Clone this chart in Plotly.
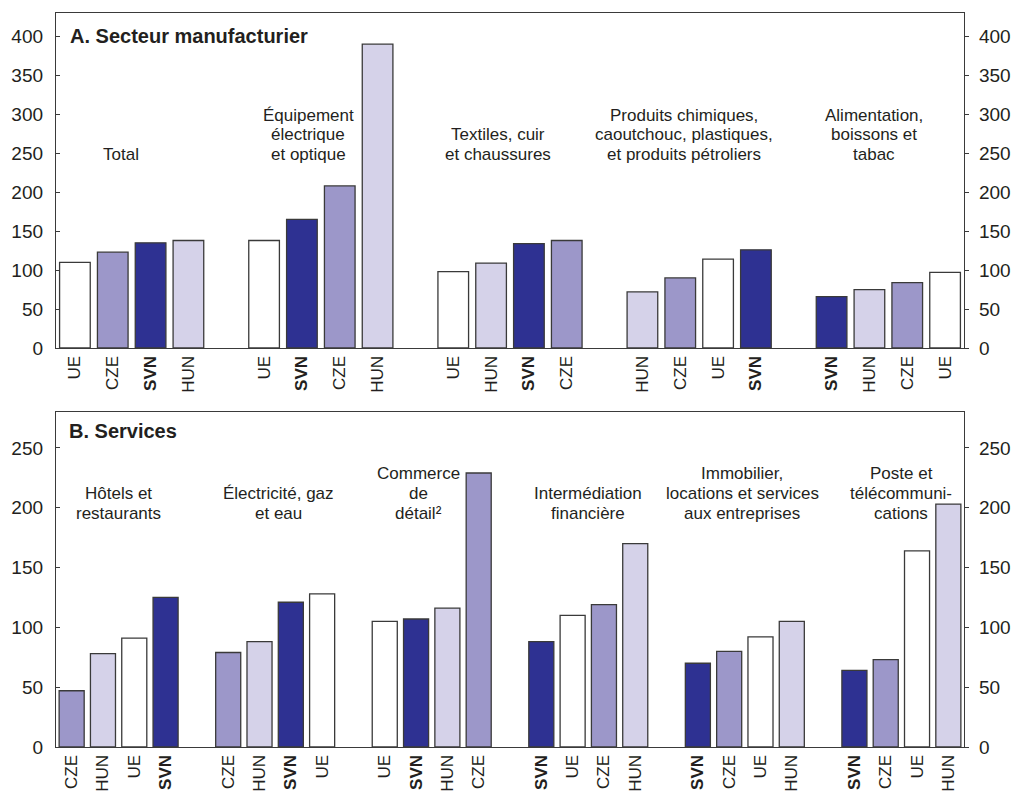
import plotly.graph_objects as go

# ---- Panel A: manufacturing ----
manuf_sectors = [
    "Total",
    "Équipement<br>électrique<br>et optique",
    "Textiles, cuir<br>et chaussures",
    "Produits chimiques,<br>caoutchouc, plastiques,<br>et produits pétroliers",
    "Alimentation,<br>boissons et<br>tabac",
]
manuf_countries = [
    ["UE", "CZE", "SVN", "HUN"],
    ["UE", "SVN", "CZE", "HUN"],
    ["UE", "HUN", "SVN", "CZE"],
    ["HUN", "CZE", "UE", "SVN"],
    ["SVN", "HUN", "CZE", "UE"],
]
manuf_values = [
    [110, 123, 135, 138],
    [138, 165, 208, 390],
    [98, 109, 134, 138],
    [72, 90, 114, 126],
    [66, 75, 84, 97],
]

# ---- Panel B: services ----
serv_sectors = [
    "Hôtels et<br>restaurants",
    "Électricité, gaz<br>et eau",
    "Commerce<br>de<br>détail²",
    "Intermédiation<br>financière",
    "Immobilier,<br>locations et services<br>aux entreprises",
    "Poste et<br>télécommuni-<br>cations",
]
serv_countries = [
    ["CZE", "HUN", "UE", "SVN"],
    ["CZE", "HUN", "SVN", "UE"],
    ["UE", "SVN", "HUN", "CZE"],
    ["SVN", "UE", "CZE", "HUN"],
    ["SVN", "CZE", "UE", "HUN"],
    ["SVN", "CZE", "UE", "HUN"],
]
serv_values = [
    [47, 78, 91, 125],
    [79, 88, 121, 128],
    [105, 107, 116, 229],
    [88, 110, 119, 170],
    [70, 80, 92, 105],
    [64, 73, 164, 203],
]

COLORS = {"SVN": "#2e3192", "CZE": "#9c97c9", "HUN": "#d5d2e9", "UE": "#ffffff"}
FONT = "Liberation Sans, Arial, Helvetica, sans-serif"
INK = "#231f20"
LINE = "#3a3a3a"
SLOTS = 5  # four bars plus one empty slot between sectors

fig = go.Figure()


def add_panel(countries, values, xref, yref, width):
    ticks_x, ticks_t = [], []
    per_country = {c: ([], []) for c in COLORS}
    for g, (order, vals) in enumerate(zip(countries, values)):
        for i, (c, v) in enumerate(zip(order, vals)):
            x = g * SLOTS + i
            per_country[c][0].append(x)
            per_country[c][1].append(v)
            ticks_x.append(x)
            ticks_t.append("<b>SVN</b>" if c == "SVN" else c)
    for c in ["UE", "CZE", "SVN", "HUN"]:
        xs, ys = per_country[c]
        fig.add_trace(go.Bar(
            x=xs, y=ys, name=c, width=width,
            marker=dict(color=COLORS[c], line=dict(color=LINE, width=1.3)),
            xaxis=xref, yaxis=yref, showlegend=False,
        ))
    return ticks_x, ticks_t


tx1, tt1 = add_panel(manuf_countries, manuf_values, "x", "y", 0.81)
tx2, tt2 = add_panel(serv_countries, serv_values, "x2", "y2", 0.80)

# invisible anchors so the right-hand axes are drawn
fig.add_trace(go.Scatter(x=[0], y=[0], xaxis="x", yaxis="y3", mode="markers",
                         marker=dict(opacity=0), showlegend=False, hoverinfo="skip"))
fig.add_trace(go.Scatter(x=[0], y=[0], xaxis="x2", yaxis="y4", mode="markers",
                         marker=dict(opacity=0), showlegend=False, hoverinfo="skip"))

tick_font = dict(family=FONT, size=19, color=INK)
xtick_font = dict(family=FONT, size=17, color=INK)

x_common = dict(showline=True, mirror=True, linecolor=LINE, linewidth=1.3,
                showgrid=False, zeroline=False, ticks="", tickangle=-90,
                tickfont=xtick_font, automargin=False, tickmode="array")
y_common = dict(showline=True, linecolor=LINE, linewidth=1.3, showgrid=False,
                zeroline=False, dtick=50, tickfont=tick_font, ticklen=4,
                tickcolor=LINE, automargin=False)

TOP_MAX, BOT_MAX = 430, 280
top_dom = [0.5436, 1.0]
bot_dom = [0.0, 0.4564]

fig.update_layout(
    width=1013, height=792, autosize=False,
    margin=dict(l=56, r=49, t=13, b=45),
    paper_bgcolor="white", plot_bgcolor="white",
    barmode="overlay",
    font=dict(family=FONT, color=INK),
    xaxis=dict(x_common, domain=[0, 1], range=[-0.5, 23.5], anchor="y",
               tickvals=tx1, ticktext=tt1),
    yaxis=dict(y_common, domain=top_dom, range=[0, TOP_MAX], anchor="x",
               ticks="inside", ticklabelstandoff=8),
    yaxis3=dict(y_common, range=[0, TOP_MAX], overlaying="y", side="right",
                anchor="x", ticks="outside", ticklabelstandoff=6),
    xaxis2=dict(x_common, domain=[0, 1], range=[-0.5, 28.5], anchor="y2",
                tickvals=tx2, ticktext=tt2),
    yaxis2=dict(y_common, domain=bot_dom, range=[0, BOT_MAX], anchor="x2",
                ticks="inside", ticklabelstandoff=8),
    yaxis4=dict(y_common, range=[0, BOT_MAX], overlaying="y2", side="right",
                anchor="x2", ticks="outside", ticklabelstandoff=6),
)

# panel titles
fig.add_annotation(text="<b>A. Secteur manufacturier</b>", xref="x domain", yref="y",
                   x=0.013, y=401, xanchor="left", yanchor="middle", showarrow=False,
                   font=dict(family=FONT, size=20, color=INK))
fig.add_annotation(text="<b>B. Services</b>", xref="x2 domain", yref="y2",
                   x=0.012, y=264, xanchor="left", yanchor="middle", showarrow=False,
                   font=dict(family=FONT, size=20, color=INK))

# sector captions: one annotation per line, stacked upwards from the last line
label_font = dict(family=FONT, size=17, color=INK)
manuf_label_dx = [1.22, 1.17, 1.18, 1.11, 1.13]
serv_label_dx = [1.5, 1.6, 1.08, 1.5, 1.41, 1.5]


def add_captions(sectors, dxs, xref, yref, y_last, spacing):
    for g, (txt, dx) in enumerate(zip(sectors, dxs)):
        lines = txt.split("<br>")
        for k, line in enumerate(reversed(lines)):
            fig.add_annotation(text=line, x=g * SLOTS + dx, y=y_last, xref=xref, yref=yref,
                               yshift=k * spacing, xanchor="center", yanchor="middle",
                               showarrow=False, font=label_font)


add_captions(manuf_sectors, manuf_label_dx, "x", "y", 249, 19.5)
add_captions(serv_sectors, serv_label_dx, "x2", "y2", 195, 20)

fig.write_html("out.html")
